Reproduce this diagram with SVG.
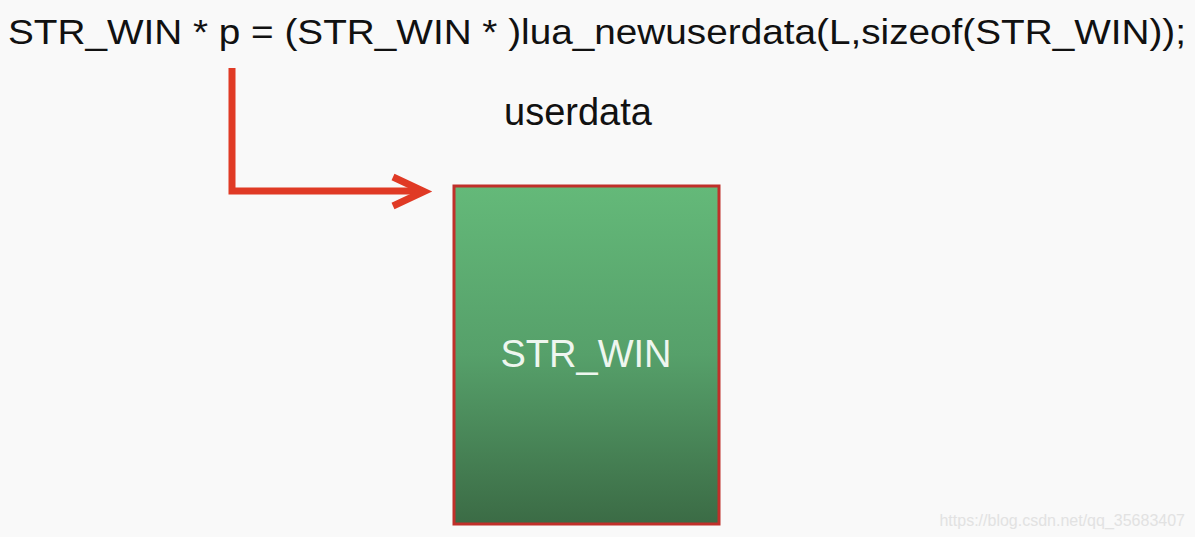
<svg xmlns="http://www.w3.org/2000/svg" width="1195" height="537" viewBox="0 0 1195 537">
<style>
.t{font-family:"Liberation Sans",Arial,sans-serif;fill:#111}
.c{fill:none;stroke:#e03a25;stroke-width:7;stroke-linecap:butt;stroke-linejoin:miter}
</style>
<defs>
<linearGradient id="g" x1="0" y1="0" x2="0" y2="1">
<stop offset="0" stop-color="#64b979"/>
<stop offset="0.5" stop-color="#56a06a"/>
<stop offset="1" stop-color="#3b6b45"/>
</linearGradient>
</defs>
<rect width="1195" height="537" fill="#f9f9f9"/>
<g id="code"><text class="t" x="8" y="44" font-size="35" textLength="1178" lengthAdjust="spacingAndGlyphs">STR_WIN * p = (STR_WIN * )lua_newuserdata(L,sizeof(STR_WIN));</text></g>
<g id="label"><text class="t" x="578" y="125" font-size="38" text-anchor="middle">userdata</text></g>
<g id="box">
<rect x="454" y="186" width="265" height="338" fill="url(#g)" stroke="#c0302a" stroke-width="3"/>
<text x="586" y="367" font-size="38" text-anchor="middle" fill="#eef6ef" font-family="Liberation Sans,Arial,sans-serif">STR_WIN</text>
</g>
<g id="connectors">
<path class="c" d="M232 68 V191 H423"/>
<path class="c" d="M393 177 L424 191.5 L393 206" stroke-linecap="round"/>
</g>
<text x="1185" y="526" font-size="16" text-anchor="end" fill="#e2e2e2" font-family="Liberation Sans,Arial,sans-serif">https://blog.csdn.net/qq_35683407</text>
</svg>
